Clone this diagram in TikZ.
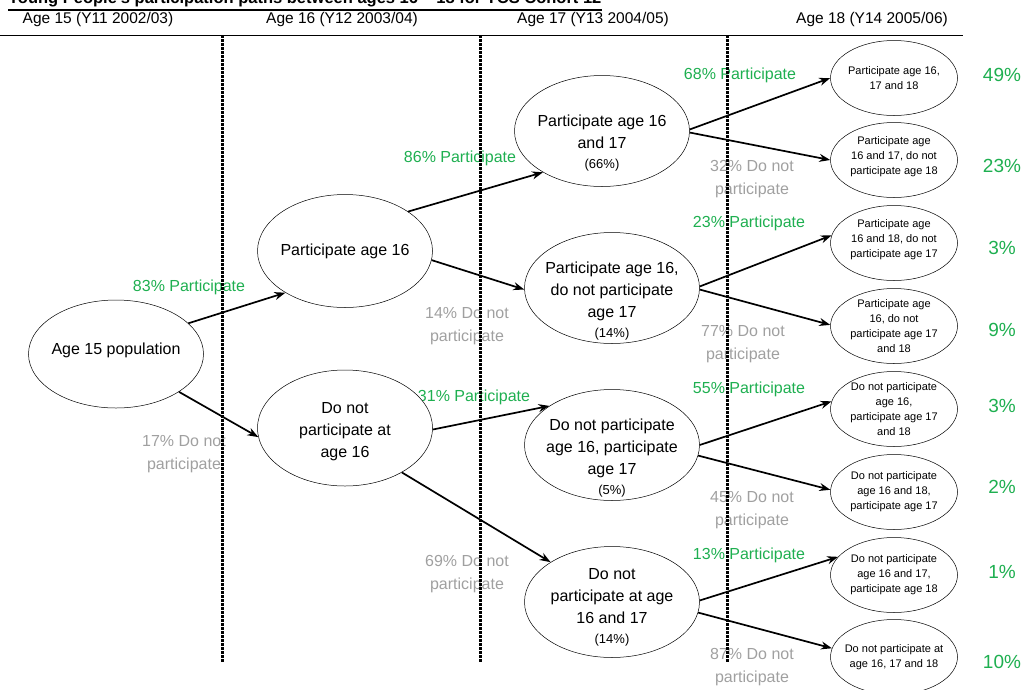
\documentclass[tikz,border=0pt]{standalone}
\usepackage{fontspec}
\setmainfont{Liberation Sans}
\usepackage{tikz}
\usetikzlibrary{shapes.geometric,arrows.meta}
\definecolor{partgreen}{RGB}{30,175,80}
\definecolor{notgray}{RGB}{160,160,160}

\begin{document}
\begin{tikzpicture}[x=1pt,y=-1pt,
  bubble/.style={draw, ellipse, line width=0.5pt, fill=white, inner sep=0pt},
  midbubble/.style={bubble, minimum width=175pt, minimum height=111pt},
  endbubble/.style={bubble, minimum width=127pt, minimum height=75pt},
  bigtxt/.style={align=center, inner sep=0pt, font=\fontsize{16}{22}\selectfont},
  smalltxt/.style={align=center, inner sep=0pt, font=\fontsize{11}{15}\selectfont},
  yeslab/.style={text=partgreen, font=\fontsize{16}{22}\selectfont},
  nolab/.style={text=notgray, align=center, font=\fontsize{16}{22.5}\selectfont},
  share/.style={text=partgreen, font=\fontsize{19}{22}\selectfont},
  hdr/.style={font=\fontsize{15.5}{18}\selectfont},
  flow/.style={line width=1.7pt, -{Stealth[length=11pt,width=8pt]}},
  yearline/.style={line width=3pt, dash pattern=on 3pt off 1pt},
]
\useasboundingbox (0,0) rectangle (1026,689);

% title, cut off at the top
\node[anchor=base west, inner sep=0pt, font=\bfseries\fontsize{16.5}{20}\selectfont] (title) at (8,3)
  {Young People's participation paths between ages 16 -- 18 for YCS Cohort 12};
\draw[line width=2pt] ([yshift=-7pt]title.base west) -- ([yshift=-7pt]title.base east);

% year headings
\node[hdr] (h15) at (98,19) {Age 15 (Y11 2002/03)};
\node[hdr] (h16) at (342,19) {Age 16 (Y12 2003/04)};
\node[hdr] (h17) at (593,19) {Age 17 (Y13 2004/05)};
\node[hdr] (h18) at (872,19) {Age 18 (Y14 2005/06)};
\draw[line width=0.9pt] (0,35) -- (963,35);

% branch labels
\node[yeslab] (l83) at (189,287) {83\% Participate};
\node[nolab] (l17) at (184,454) {17\% Do not\\participate};
\node[yeslab] (l86) at (460,158) {86\% Participate};
\node[nolab] (l14) at (467,326) {14\% Do not\\participate};
\node[yeslab] (l31) at (474,397) {31\% Participate};
\node[nolab] (l69) at (467,574) {69\% Do not\\participate};
\node[yeslab] (l68) at (740,75) {68\% Participate};
\node[nolab] (l32) at (752,179) {32\% Do not\\participate};
\node[yeslab] (l23) at (749,223) {23\% Participate};
\node[nolab] (l77) at (743,344) {77\% Do not\\participate};
\node[yeslab] (l55) at (749,389) {55\% Participate};
\node[nolab] (l45) at (752,510) {45\% Do not\\participate};
\node[yeslab] (l13) at (749,555) {13\% Participate};
\node[nolab] (l87) at (752,667) {87\% Do not\\participate};

\foreach \x in {222,480,727}
  \draw[yearline] (\x,35) -- (\x,663);

% age 15 and 16
\node[bubble, minimum width=175pt, minimum height=108pt] (a15) at (116,354) {};
\node[bigtxt, yshift=4pt] (a15t) at (a15) {Age 15 population};
\node[bubble, minimum width=175pt, minimum height=113pt] (p16) at (345,251) {};
\node[bigtxt] (p16t) at (p16) {Participate age 16};
\node[bubble, minimum width=175pt, minimum height=116pt] (n16) at (345,428) {};
\node[bigtxt, yshift=-4pt] (n16t) at (n16) {Do not\\participate at\\age 16};

% age 17
\node[midbubble] (p1617) at (602,131) {};
\node[bigtxt, yshift=-12pt] (p1617t) at (p1617) {Participate age 16\\and 17\\[-2pt]{\fontsize{13}{15}\selectfont (66\%)}};
\node[midbubble] (p16n17) at (612,288) {};
\node[bigtxt, yshift=-13pt] (p16n17t) at (p16n17) {Participate age 16,\\do not participate\\age 17\\[-2pt]{\fontsize{13}{15}\selectfont (14\%)}};
\node[midbubble] (n16p17) at (612,445) {};
\node[bigtxt, yshift=-13pt] (n16p17t) at (n16p17) {Do not participate\\age 16, participate\\age 17\\[-2pt]{\fontsize{13}{15}\selectfont (5\%)}};
\node[midbubble] (n1617) at (612,602) {};
\node[bigtxt, yshift=-5pt] (n1617t) at (n1617) {Do not\\participate at age\\16 and 17\\[-2pt]{\fontsize{13}{15}\selectfont (14\%)}};

% age 18
\node[endbubble] (r1) at (894,78) {};
\node[smalltxt] (r1t) at (r1) {Participate age 16,\\17 and 18};
\node[endbubble] (r2) at (894,160) {};
\node[smalltxt, yshift=3pt] (r2t) at (r2) {Participate age\\16 and 17, do not\\participate age 18};
\node[endbubble] (r3) at (894,243) {};
\node[smalltxt, yshift=3pt] (r3t) at (r3) {Participate age\\16 and 18, do not\\participate age 17};
\node[endbubble] (r4) at (894,326) {};
\node[smalltxt] (r4t) at (r4) {Participate age\\16, do not\\participate age 17\\and 18};
\node[endbubble] (r5) at (894,409) {};
\node[smalltxt] (r5t) at (r5) {Do not participate\\age 16,\\participate age 17\\and 18};
\node[endbubble] (r6) at (894,492) {};
\node[smalltxt] (r6t) at (r6) {Do not participate\\age 16 and 18,\\participate age 17};
\node[endbubble] (r7) at (894,575) {};
\node[smalltxt] (r7t) at (r7) {Do not participate\\age 16 and 17,\\participate age 18};
\node[endbubble] (r8) at (894,657) {};
\node[smalltxt] (r8t) at (r8) {Do not participate at\\age 16, 17 and 18};

% final shares
\node[share] (s1) at (1002,75) {49\%};
\node[share] (s2) at (1002,166) {23\%};
\node[share] (s3) at (1002,248) {3\%};
\node[share] (s4) at (1002,330) {9\%};
\node[share] (s5) at (1002,406) {3\%};
\node[share] (s6) at (1002,487) {2\%};
\node[share] (s7) at (1002,572) {1\%};
\node[share] (s8) at (1002,662) {10\%};

% paths
\draw[flow] (a15.23) -- (p16.215);
\draw[flow] (a15.329) -- (n16.186);
\draw[flow] (p16.32) -- (p1617.215);
\draw[flow] (p16.354) -- (p16n17.181);
\draw[flow] (n16.359) -- (n16p17.148);
\draw[flow] (n16.322) -- (n1617.147);
\draw[flow] (p1617.1) -- (r1.180);
\draw[flow] (p1617.359) -- (r2.180);
\draw[flow] (p16n17.1) -- (r3.173);
\draw[flow] (p16n17.359) -- (r4.179);
\draw[flow] (n16p17.0) -- (r5.173);
\draw[flow] (n16p17.353) -- (r6.178);
\draw[flow] (n1617.1) -- (r7.162);
\draw[flow] (n1617.353) -- (r8.172);
\end{tikzpicture}
\end{document}
